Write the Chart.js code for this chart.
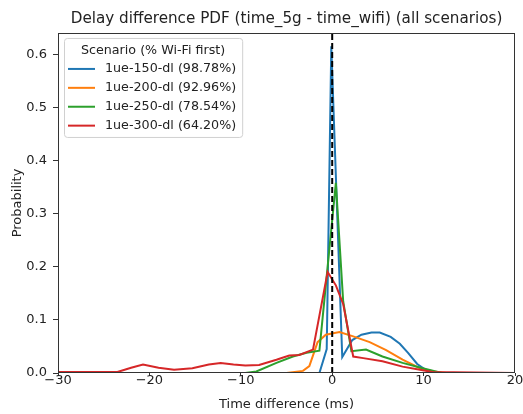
<!DOCTYPE html>
<html>
<head>
<meta charset="utf-8">
<script src="https://cdn.jsdelivr.net/npm/chart.js@4"></script>
<style>
    body { margin: 0; background: #fff; }
    #wrap { width: 523px; height: 414px; }
</style>
</head>
<body>
<div id="wrap"><canvas id="pdfChart" width="523" height="414"></canvas></div>
<script>
// Series (time in ms, probability)
const scenarioLabels = ['1ue-150-dl (98.78%)', '1ue-200-dl (92.96%)', '1ue-250-dl (78.54%)', '1ue-300-dl (64.20%)'];
const legendTitle = 'Scenario (% Wi-Fi first)';

const time150 = [-30, -1.4, -0.6, -0.1, 1.1, 2.2, 3.2, 4.3, 5.2, 6.4, 7.4, 8.3, 9.3, 10.3, 11.5, 20];
const prob150 = [0, 0, 0.045, 0.615, 0.030, 0.062, 0.072, 0.076, 0.076, 0.068, 0.055, 0.038, 0.017, 0.005, 0, 0];

const time200 = [-30, -5, -3.2, -2.5, -1.6, -0.7, 0.8, 2.3, 4.1, 5.9, 7.7, 9.6, 11, 12.5, 20];
const prob200 = [0, 0, 0.004, 0.013, 0.058, 0.072, 0.077, 0.069, 0.058, 0.043, 0.025, 0.009, 0.003, 0, 0];

const time250 = [-30, -9.5, -8.3, -6.1, -4.3, -2.8, -1.4, 0.4, 1.2, 2.1, 3.7, 5.5, 7.7, 9.9, 12, 20];
const prob250 = [0, 0, 0.003, 0.019, 0.031, 0.038, 0.042, 0.358, 0.135, 0.041, 0.044, 0.031, 0.019, 0.009, 0, 0];

const time300 = [-30, -23.5, -22, -20.7, -19, -17.3, -15.3, -13.5, -12.2, -10.8, -9.5, -8, -6.1, -4.7, -3.6, -2.1, -0.5, 0.4, 1.2, 2.3, 3.4, 5.5, 7.7, 9.6, 11, 20];
const prob300 = [0.002, 0.002, 0.01, 0.016, 0.01, 0.006, 0.009, 0.016, 0.019, 0.016, 0.014, 0.015, 0.025, 0.033, 0.034, 0.044, 0.19, 0.165, 0.13, 0.031, 0.028, 0.022, 0.012, 0.006, 0.002, 0];

// vertical reference at 0 ms
const zeroTime = [0, 0];
const zeroProb = [0, 0.64];

const xRange = [-30, 20];
const yRange = [0, 0.64];

const lineColors = ['#1f77b4', '#ff7f0e', '#2ca02c', '#d62728'];

function toPoints(xs, ys) {
    return xs.map((x, i) => ({ x: x, y: ys[i] }));
}

Chart.defaults.font.family = '"DejaVu Sans", sans-serif';
Chart.defaults.font.size = 13;
Chart.defaults.color = '#222';

// matplotlib-like frame round the plot area
const frameBox = {
    id: 'frameBox',
    afterDatasetsDraw(chart) {
        const { ctx, chartArea } = chart;
        ctx.save();
        ctx.strokeStyle = '#333';
        ctx.lineWidth = 1;
        ctx.strokeRect(Math.round(chartArea.left) + 0.5, Math.round(chartArea.top) + 0.5,
            Math.round(chartArea.width) - 1, Math.round(chartArea.height) - 1);
        ctx.restore();
    }
};

// legend box with a title, inside the plot (upper left)
const boxLegend = {
    id: 'boxLegend',
    afterDraw(chart) {
        const { ctx, chartArea } = chart;
        const items = chart.data.datasets.filter(ds => ds.inLegend);
        ctx.save();
        ctx.font = '12.7px "DejaVu Sans", sans-serif';
        const textW = Math.max(...items.map(ds => ctx.measureText(ds.label).width));
        const x = chartArea.left + 6;
        const y = chartArea.top + 5;
        const w = 41 + textW + 6;
        const h = 99;

        ctx.beginPath();
        ctx.roundRect(x + 0.5, y + 0.5, w, h, 3);
        ctx.fillStyle = 'rgba(255,255,255,0.85)';
        ctx.fill();
        ctx.strokeStyle = '#d0d0d0';
        ctx.lineWidth = 1;
        ctx.stroke();

        ctx.fillStyle = '#222';
        ctx.textBaseline = 'middle';
        ctx.textAlign = 'center';
        ctx.fillText(legendTitle, x + w / 2, y + 12.5);

        ctx.textAlign = 'left';
        items.forEach((ds, i) => {
            const rowY = y + 31 + i * 18.9;
            ctx.beginPath();
            ctx.moveTo(x + 4, rowY);
            ctx.lineTo(x + 31, rowY);
            ctx.strokeStyle = ds.borderColor;
            ctx.lineWidth = 2;
            ctx.stroke();
            ctx.fillStyle = '#222';
            ctx.fillText(ds.label, x + 41, rowY);
        });
        ctx.restore();
    }
};

const ctx = document.getElementById('pdfChart').getContext('2d');

const series = [
    [time150, prob150],
    [time200, prob200],
    [time250, prob250],
    [time300, prob300]
];

const datasets = series.map((s, i) => ({
    label: scenarioLabels[i],
    data: toPoints(s[0], s[1]),
    borderColor: lineColors[i],
    backgroundColor: lineColors[i],
    borderWidth: 2,
    pointRadius: 0,
    tension: 0,
    inLegend: true,
    order: 4 - i
}));

datasets.push({
    label: 'zero',
    data: toPoints(zeroTime, zeroProb),
    borderColor: '#000',
    borderWidth: 2,
    borderDash: [6, 3],
    pointRadius: 0,
    inLegend: false,
    order: 0
});

new Chart(ctx, {
    type: 'line',
    data: { datasets: datasets },
    options: {
        responsive: false,
        animation: false,
        layout: { padding: { left: 0, right: 8, top: 0, bottom: 0 } },
        plugins: {
            legend: { display: false },
            tooltip: { enabled: false },
            title: {
                display: true,
                text: 'Delay difference PDF (time_5g - time_wifi) (all scenarios)',
                fullSize: false,
                color: '#222',
                font: { size: 15.2, weight: 'normal' },
                padding: { top: 9.9, bottom: 4.8 }
            }
        },
        scales: {
            x: {
                type: 'linear',
                min: xRange[0],
                max: xRange[1],
                border: { display: false },
                grid: { drawOnChartArea: false, drawTicks: true, tickLength: 3, tickColor: '#333' },
                ticks: {
                    stepSize: 10,
                    padding: -2,
                    maxRotation: 0,
                    font: { lineHeight: 1 },
                    callback: v => v < 0 ? '\u2212' + Math.abs(v) : String(v)
                },
                title: { display: true, text: 'Time difference (ms)', padding: { top: 0, bottom: 1.7 } },
                afterFit: scale => { scale.height = 41; }
            },
            y: {
                min: yRange[0],
                max: yRange[1],
                bounds: 'data',
                border: { display: false },
                grid: { drawOnChartArea: false, drawTicks: true, tickLength: 5, tickColor: '#333' },
                ticks: {
                    stepSize: 0.1,
                    includeBounds: false,
                    padding: 6,
                    callback: v => v.toFixed(1)
                },
                title: { display: true, text: 'Probability', padding: { top: 10, bottom: 0 } },
                afterFit: scale => { scale.width = 58; }
            }
        }
    },
    plugins: [frameBox, boxLegend]
});
</script>
</body>
</html>
